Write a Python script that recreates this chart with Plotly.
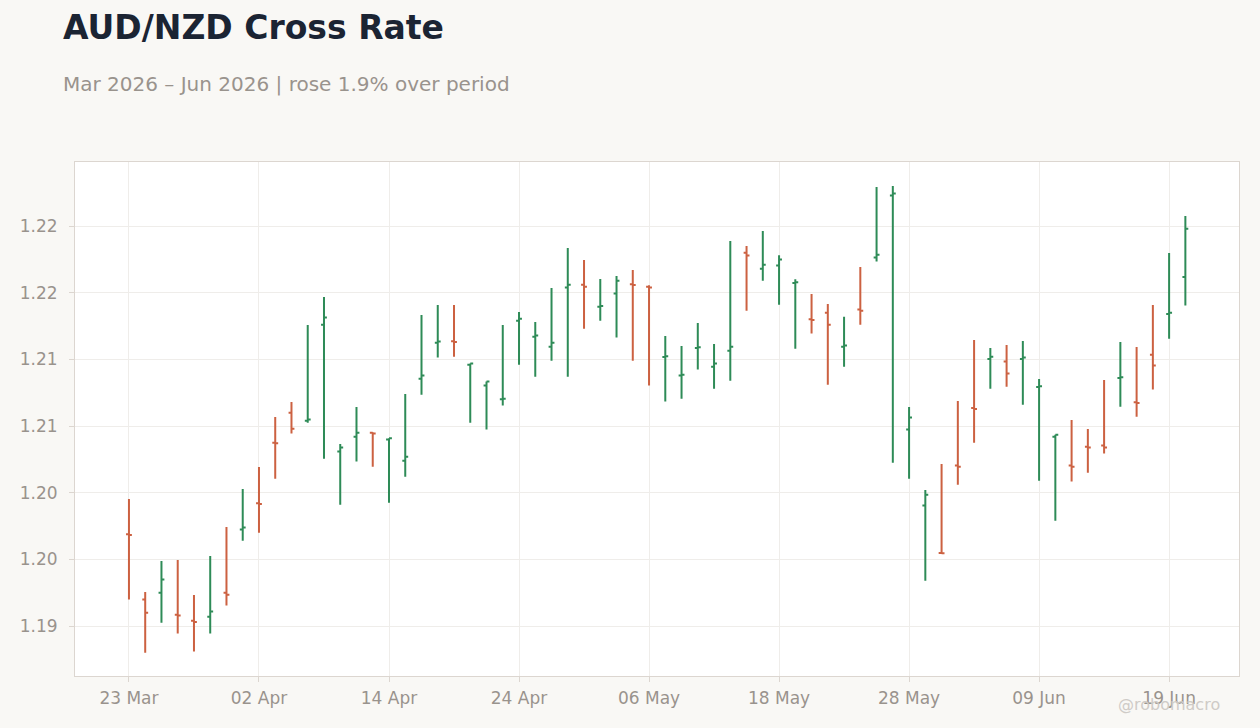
import pandas as pd
import plotly.graph_objects as go

# AUD/NZD daily bars, one per business day starting 23 Mar 2026
start_date = "2026-03-23"

opens = [
    1.19688, 1.19198, 1.19250, 1.19085, 1.19040, 1.19070, 1.19250, 1.19723, 1.19920, 1.20375,
    1.20600, 1.20540, 1.21260, 1.20308, 1.20420, 1.20450, 1.20398, 1.20240, 1.20855, 1.21125,
    1.21135, 1.20960, 1.20803, 1.20700, 1.21290, 1.21170, 1.21095, 1.21538, 1.21560, 1.21395,
    1.21493, 1.21563, 1.21545, 1.21018, 1.20878, 1.21085, 1.20945, 1.21065, 1.21800, 1.21680,
    1.21703, 1.21573, 1.21300, 1.21350, 1.21095, 1.21373, 1.21763, 1.22228, 1.20473, 1.19903,
    1.19548, 1.20203, 1.20635, 1.21003, 1.20983, 1.21003, 1.20793, 1.20420, 1.20203, 1.20345,
    1.20353, 1.20860, 1.20678, 1.21035, 1.21340, 1.21618,
]
highs = [
    1.19953, 1.19255, 1.19488, 1.19495, 1.19233, 1.19525, 1.19743, 1.20028, 1.20193, 1.20568,
    1.20680, 1.21258, 1.21468, 1.20365, 1.20643, 1.20453, 1.20408, 1.20740, 1.21333, 1.21408,
    1.21408, 1.20968, 1.20833, 1.21258, 1.21355, 1.21280, 1.21535, 1.21835, 1.21745, 1.21603,
    1.21625, 1.21670, 1.21555, 1.21175, 1.21100, 1.21273, 1.21115, 1.21888, 1.21850, 1.21963,
    1.21780, 1.21600, 1.21490, 1.21415, 1.21320, 1.21693, 1.22293, 1.22300, 1.20643, 1.20020,
    1.20215, 1.20688, 1.21145, 1.21085, 1.21108, 1.21138, 1.20853, 1.20435, 1.20545, 1.20478,
    1.20845, 1.21130, 1.21093, 1.21408, 1.21798, 1.22075,
]
lows = [
    1.19198, 1.18800, 1.19025, 1.18943, 1.18808, 1.18943, 1.19153, 1.19640, 1.19700, 1.20105,
    1.20443, 1.20525, 1.20255, 1.19910, 1.20233, 1.20195, 1.19925, 1.20120, 1.20735, 1.21013,
    1.21020, 1.20525, 1.20473, 1.20653, 1.20960, 1.20870, 1.20990, 1.20870, 1.21230, 1.21290,
    1.21163, 1.20990, 1.20803, 1.20683, 1.20705, 1.20923, 1.20780, 1.20840, 1.21365, 1.21590,
    1.21410, 1.21080, 1.21193, 1.20810, 1.20945, 1.21260, 1.21733, 1.20225, 1.20105, 1.19340,
    1.19545, 1.20060, 1.20375, 1.20780, 1.20795, 1.20660, 1.20090, 1.19790, 1.20083, 1.20150,
    1.20293, 1.20645, 1.20570, 1.20773, 1.21155, 1.21403,
]
closes = [
    1.19683, 1.19100, 1.19348, 1.19078, 1.19030, 1.19108, 1.19235, 1.19738, 1.19915, 1.20370,
    1.20480, 1.20548, 1.21313, 1.20338, 1.20450, 1.20443, 1.20408, 1.20270, 1.20878, 1.21133,
    1.21130, 1.20968, 1.20833, 1.20705, 1.21305, 1.21178, 1.21125, 1.21560, 1.21545, 1.21400,
    1.21590, 1.21558, 1.21538, 1.21023, 1.20885, 1.21090, 1.20968, 1.21095, 1.21778, 1.21710,
    1.21748, 1.21578, 1.21295, 1.21260, 1.21103, 1.21365, 1.21785, 1.22243, 1.20563, 1.19985,
    1.19545, 1.20195, 1.20628, 1.21020, 1.20893, 1.21013, 1.20798, 1.20435, 1.20195, 1.20338,
    1.20338, 1.20865, 1.20673, 1.20953, 1.21350, 1.21980,
]

tick_dates = ["2026-03-23", "2026-04-02", "2026-04-14", "2026-04-24", "2026-05-06",
              "2026-05-18", "2026-05-28", "2026-06-09", "2026-06-19"]
tick_text = ["23 Mar", "02 Apr", "14 Apr", "24 Apr", "06 May", "18 May", "28 May", "09 Jun", "19 Jun"]

y_tickvals = [1.19, 1.195, 1.20, 1.205, 1.21, 1.215, 1.22]
y_ticktext = ["1.19", "1.20", "1.20", "1.21", "1.21", "1.22", "1.22"]

dates = pd.bdate_range(start_date, periods=len(opens)).strftime("%Y-%m-%d").tolist()

GREEN = "#2e8b57"
RED = "#cc6141"
GRID = "#efedea"
AXIS = "#dcd6d0"
MUTED = "#99938d"
BG = "#f9f8f5"

fig = go.Figure()
fig.add_trace(go.Ohlc(
    x=dates, open=opens, high=highs, low=lows, close=closes,
    increasing=dict(line=dict(color=GREEN, width=2)),
    decreasing=dict(line=dict(color=RED, width=2)),
    tickwidth=0.18,
    showlegend=False,
))

fig.update_layout(
    width=1260, height=728,
    paper_bgcolor=BG, plot_bgcolor="white",
    margin=dict(l=75, r=21, t=162, b=52),
    font=dict(family="DejaVu Sans", color=MUTED, size=17),
    showlegend=False,
    xaxis=dict(
        type="category",
        range=[-3.32, 68.3],
        rangeslider=dict(visible=False),
        tickmode="array", tickvals=tick_dates, ticktext=tick_text,
        showgrid=True, gridcolor=GRID,
        showline=True, linecolor=AXIS, linewidth=1, mirror=True,
        ticks="outside", ticklen=5, tickcolor=AXIS,
        ticklabelstandoff=2,
        tickfont=dict(size=17, color=MUTED),
        zeroline=False,
    ),
    yaxis=dict(
        range=[1.18625, 1.2248],
        tickmode="array", tickvals=y_tickvals, ticktext=y_ticktext,
        showgrid=True, gridcolor=GRID,
        showline=True, linecolor=AXIS, linewidth=1, mirror=True,
        ticks="outside", ticklen=5, tickcolor=AXIS,
        ticklabelstandoff=8,
        tickfont=dict(size=17, color=MUTED),
        zeroline=False,
    ),
    annotations=[
        dict(text="<b>AUD/NZD Cross Rate</b>", xref="paper", yref="paper",
             x=-0.012, y=1.2617, xanchor="left", yanchor="middle", showarrow=False,
             font=dict(family="DejaVu Sans", size=33, color="#1b2433")),
        dict(text="Mar 2026 – Jun 2026 | rose 1.9% over period", xref="paper", yref="paper",
             x=-0.012, y=1.1512, xanchor="left", yanchor="middle", showarrow=False,
             font=dict(family="DejaVu Sans", size=20, color=MUTED)),
        dict(text="@robomacro", xref="paper", yref="paper",
             x=0.9854, y=-0.0564, xanchor="right", yanchor="middle", showarrow=False,
             font=dict(family="DejaVu Sans", size=16, color="#cfcbc7")),
    ],
)

# page margin off so the figure fills the window edge to edge
fig.write_html("out.html", config={"displayModeBar": False},
               post_script="document.body.style.margin='0';")
